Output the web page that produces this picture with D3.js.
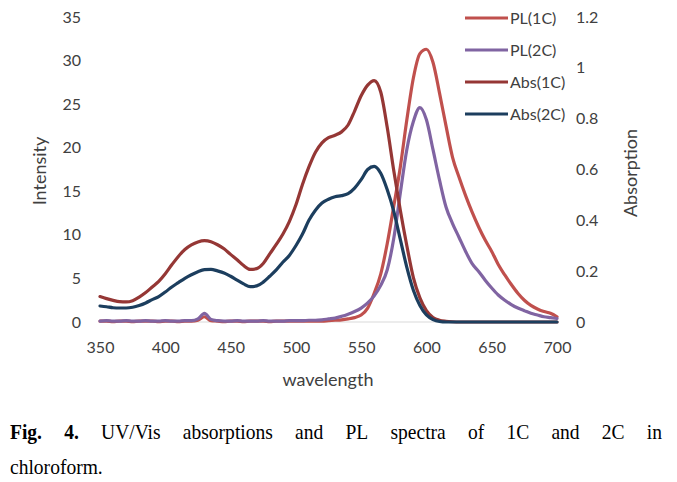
<!DOCTYPE html>
<html>
<head>
<meta charset="utf-8">
<script src="https://cdn.jsdelivr.net/npm/d3@7/dist/d3.min.js"></script>
<style>
  html, body { margin: 0; padding: 0; background: #ffffff; }
  svg { display: block; }
</style>
</head>
<body>
<svg id="chart" width="677" height="482"></svg>
<script>
// ---------------- DATA ----------------
const wavelengths = d3.range(350, 701, 5);

const pl1C = [
  0.1,0.1,0.05,0.1,0.1,0.05,0.1,0.1,0.1,0.05,0.1,0.1,0.05,0.1,0.1,
  0.2,0.6,0.15,
  0.1,0.05,0.1,0.1,0.05,0.1,0.1,0.1,0.05,0.1,0.1,0.1,0.1,0.1,0.1,0.1,0.1,
  0.15,0.2,0.25,0.35,0.5,0.8,1.6,3.3,5.5,9.0,13.3,17.8,23.2,28.0,30.8,31.3,29.8,26.3,22.5,18.9,
  16.6,14.5,12.6,10.9,9.4,8.1,6.6,5.4,4.3,3.3,2.5,1.9,1.5,1.2,1.0,0.6
];

const pl2C = [
  0.1,0.15,0.1,0.1,0.15,0.1,0.1,0.15,0.1,0.1,0.15,0.1,0.1,0.15,0.15,
  0.35,1.0,0.3,
  0.15,0.1,0.1,0.15,0.1,0.1,0.1,0.15,0.1,0.1,0.1,0.15,0.15,0.15,0.2,0.2,
  0.25,0.35,0.45,0.65,0.9,1.2,1.6,2.2,3.0,4.2,6.0,9.6,14.8,19.8,23.0,24.6,23.2,19.8,16.3,13.2,
  11.3,9.7,8.1,6.7,5.8,4.8,3.9,3.1,2.5,2.0,1.6,1.3,1.0,0.8,0.6,0.5,0.4
];

const abs1C = [
  0.100,0.092,0.085,0.080,0.079,0.084,0.098,0.116,0.138,0.160,0.190,0.225,0.258,0.285,0.303,
  0.315,0.320,0.316,0.304,0.288,0.266,0.245,0.222,0.207,0.210,0.230,0.268,0.305,0.345,0.395,
  0.460,0.540,0.610,0.668,0.705,0.725,0.735,0.748,0.775,0.830,0.890,0.932,0.950,0.905,0.765,
  0.595,0.440,0.300,0.175,0.095,0.045,0.018,0.007,0.003,0.001,
  0,0,0,0,0,0,0,0,0,0,0,0,0,0,0,0
];

const abs2C = [
  0.063,0.060,0.056,0.055,0.055,0.058,0.065,0.075,0.088,0.100,0.118,0.138,0.155,0.172,0.186,
  0.198,0.206,0.207,0.201,0.193,0.180,0.165,0.150,0.139,0.142,0.157,0.180,0.205,0.235,0.262,
  0.300,0.345,0.400,0.440,0.468,0.483,0.493,0.497,0.505,0.527,0.560,0.600,0.612,0.585,0.520,
  0.435,0.325,0.215,0.125,0.065,0.028,0.010,0.002,
  0,0,0,0,0,0,0,0,0,0,0,0,0,0,0,0,0,0
];

const seriesNames = ["PL(1C)", "PL(2C)", "Abs(1C)", "Abs(2C)"];
const seriesValues = [pl1C, pl2C, abs1C, abs2C];
const seriesAxis = ["left", "left", "right", "right"];
const seriesColors = ["#C0504D", "#8064A2", "#953735", "#1C3E5E"];

const xTicks = [350, 400, 450, 500, 550, 600, 650, 700];
const leftTicks = [0, 5, 10, 15, 20, 25, 30, 35];
const rightTicks = [0, 0.2, 0.4, 0.6, 0.8, 1, 1.2];

const xTitle = "wavelength";
const leftTitle = "Intensity";
const rightTitle = "Absorption";

const captionBold = ["Fig.", "4."];
const captionLine1 = ["UV/Vis", "absorptions", "and", "PL", "spectra", "of", "1C", "and", "2C", "in"];
const captionLine2 = ["chloroform."];

// ---------------- LAYOUT ----------------
const plot = { left: 100, right: 557, top: 17, bottom: 322 };
const svg = d3.select("#chart");

const x = d3.scaleLinear().domain([350, 700]).range([plot.left, plot.right]);
const yL = d3.scaleLinear().domain([0, 35]).range([plot.bottom, plot.top]);
const yR = d3.scaleLinear().domain([0, 1.2]).range([plot.bottom, plot.top]);

const FONT = "Lato, 'Open Sans', sans-serif";
const TXT = "#404040";

// baseline gridline (zero)
svg.append("line")
  .attr("x1", plot.left).attr("x2", plot.right)
  .attr("y1", yL(0)).attr("y2", yL(0))
  .attr("stroke", "#D9D9D9").attr("stroke-width", 1);

// axes (labels only)
const xAxis = d3.axisBottom(x).tickValues(xTicks).tickSize(0).tickPadding(20);
const gx = svg.append("g").attr("transform", `translate(0,${plot.bottom})`).call(xAxis);
const lAxis = d3.axisLeft(yL).tickValues(leftTicks).tickSize(0).tickPadding(19).tickFormat(d3.format("d"));
const gl = svg.append("g").attr("transform", `translate(${plot.left},0)`).call(lAxis);
const rAxis = d3.axisRight(yR).tickValues(rightTicks).tickSize(0).tickPadding(19).tickFormat(d => String(+d.toFixed(1)));
const gr = svg.append("g").attr("transform", `translate(${plot.right},0)`).call(rAxis);

[gx, gl, gr].forEach(g => {
  g.select(".domain").remove();
  g.selectAll("text").attr("font-family", FONT).attr("font-size", 16).attr("fill", TXT);
});

// axis titles
svg.append("text").text(xTitle)
  .attr("x", 328).attr("y", 386).attr("text-anchor", "middle")
  .attr("font-family", FONT).attr("font-size", 18).attr("fill", TXT);
svg.append("text").text(leftTitle)
  .attr("transform", "translate(46,171) rotate(-90)").attr("text-anchor", "middle")
  .attr("font-family", FONT).attr("font-size", 18).attr("fill", TXT);
svg.append("text").text(rightTitle)
  .attr("transform", "translate(637,173) rotate(-90)").attr("text-anchor", "middle")
  .attr("font-family", FONT).attr("font-size", 18).attr("fill", TXT);

// lines
seriesNames.forEach((name, i) => {
  const ys = seriesAxis[i] === "left" ? yL : yR;
  const line = d3.line()
    .x((d, j) => x(wavelengths[j]))
    .y(d => ys(d))
    .curve(d3.curveMonotoneX);
  svg.append("path")
    .datum(seriesValues[i])
    .attr("d", line)
    .attr("fill", "none")
    .attr("stroke", seriesColors[i])
    .attr("stroke-width", 3.2)
    .attr("stroke-linejoin", "round")
    .attr("stroke-linecap", "round");
});

// legend
const legendY = d3.scalePoint().domain(seriesNames).range([18, 114]);
seriesNames.forEach((name, i) => {
  const yy = legendY(name);
  svg.append("line")
    .attr("x1", 465).attr("x2", 508).attr("y1", yy).attr("y2", yy)
    .attr("stroke", seriesColors[i]).attr("stroke-width", 3);
  svg.append("text").text(name)
    .attr("x", 510).attr("y", yy).attr("dy", "0.35em")
    .attr("font-family", FONT).attr("font-size", 16).attr("fill", TXT);
});

// caption
const CAPFONT = "'Liberation Serif', 'Times New Roman', serif";
const capSize = 21;
const squeeze = 0.93;
function placeLine(words, boldCount, baseline, justify) {
  const els = words.map((w, i) => svg.append("text").text(w)
    .attr("y", baseline)
    .attr("font-family", CAPFONT).attr("font-size", capSize)
    .attr("font-weight", i < boldCount ? "bold" : "normal")
    .attr("fill", "#000"));
  const widths = els.map(e => e.node().getComputedTextLength() * squeeze);
  const total = d3.sum(widths);
  const gap = justify ? (652 - total) / (words.length - 1) : capSize * 0.25;
  let cx = 10;
  els.forEach((e, i) => {
    e.attr("x", cx).attr("textLength", widths[i]).attr("lengthAdjust", "spacingAndGlyphs");
    cx += widths[i] + gap;
  });
}
placeLine(captionBold.concat(captionLine1), captionBold.length, 439, true);
placeLine(captionLine2, 0, 474, false);
</script>
</body>
</html>
